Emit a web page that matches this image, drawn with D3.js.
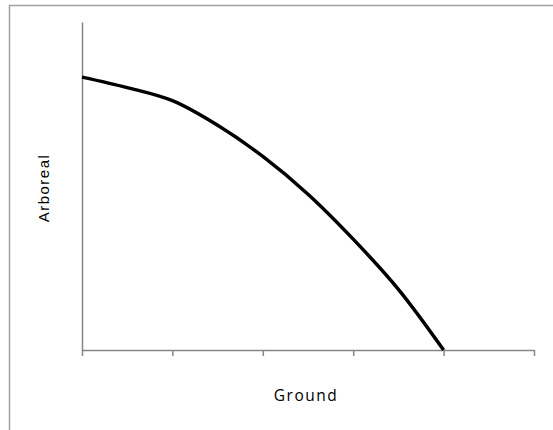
<!DOCTYPE html>
<html>
<head>
<meta charset="utf-8">
<script src="https://cdn.jsdelivr.net/npm/d3@7"></script>
<style>
  body { margin: 0; background: #fff; }
  svg { display: block; }
</style>
</head>
<body>
<svg id="chart" width="553" height="430"></svg>
<script>
// values
const groundValues = [0, 0.5, 1, 1.5, 2, 2.5, 3, 3.5, 4];
const arborealValues = [8.32, 8.0, 7.6, 6.85, 5.9, 4.75, 3.38, 1.85, 0];
const xTicks = [0, 1, 2, 3, 4, 5];

const svg = d3.select("#chart");

const plotLeft = 82, plotRight = 534, plotTop = 22, plotBottom = 350;

const x = d3.scaleLinear().domain([0, 5]).range([plotLeft, plotRight]);
const y = d3.scaleLinear().domain([0, 10]).range([plotBottom, plotTop]);

// outer frame (runs off the right and bottom edges)
svg.append("path")
    .attr("d", "M9.5,600 L9.5,5.5 L600,5.5")
    .attr("fill", "none")
    .attr("stroke", "#a0a0a0")
    .attr("stroke-width", 1.5);

// x axis with downward ticks
const xAxis = svg.append("g")
    .attr("transform", `translate(0, ${plotBottom})`)
    .call(d3.axisBottom(x).tickValues(xTicks).tickSize(6).tickSizeOuter(0).tickFormat(""));
xAxis.select(".domain").attr("stroke", "#868686").attr("stroke-width", 1.5);
xAxis.selectAll(".tick line").attr("stroke", "#868686").attr("stroke-width", 1.5);

// y axis, no ticks
const yAxis = svg.append("g")
    .attr("transform", `translate(${plotLeft}, 0)`)
    .call(d3.axisLeft(y).tickValues([]).tickSizeOuter(0));
yAxis.select(".domain").attr("stroke", "#868686").attr("stroke-width", 1.5);

// the curve
const line = d3.line()
    .x((d, i) => x(groundValues[i]))
    .y(d => y(d))
    .curve(d3.curveCatmullRom.alpha(0.5));

svg.append("path")
    .datum(arborealValues)
    .attr("d", line)
    .attr("fill", "none")
    .attr("stroke", "#000")
    .attr("stroke-width", 3.5)
    .attr("stroke-linecap", "butt");

// axis titles
svg.append("text")
    .attr("x", 306)
    .attr("y", 401)
    .attr("text-anchor", "middle")
    .style("font-family", "'Open Sans', sans-serif")
    .style("font-size", "15.5px")
    .style("letter-spacing", "1.5px")
    .style("fill", "#000")
    .text("Ground");

svg.append("text")
    .attr("transform", "translate(49, 188) rotate(-90)")
    .attr("text-anchor", "middle")
    .style("font-family", "'Liberation Sans', Arial, sans-serif")
    .style("font-size", "15px")
    .style("letter-spacing", "1.5px")
    .style("fill", "#000")
    .text("Arboreal");
</script>
</body>
</html>
